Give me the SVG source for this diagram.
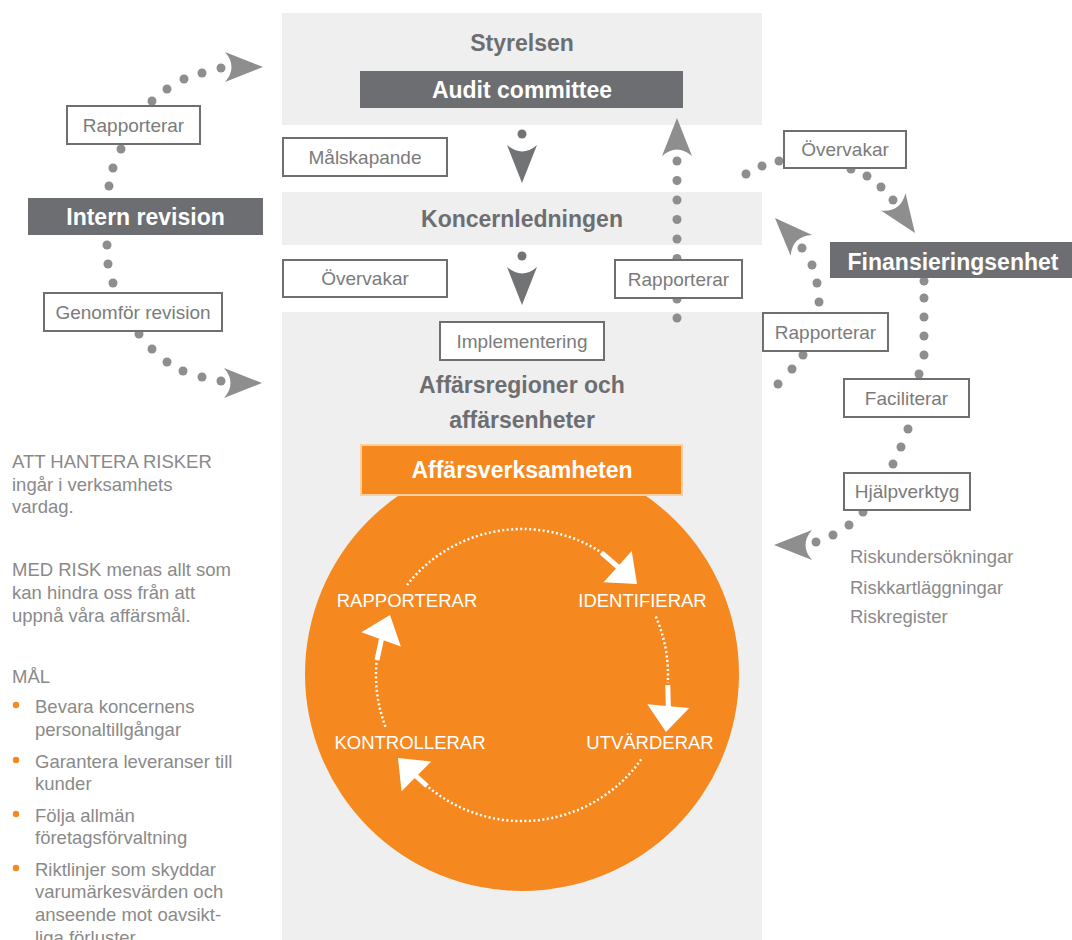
<svg xmlns="http://www.w3.org/2000/svg" xmlns:xlink="http://www.w3.org/1999/xlink" width="1072" height="940" viewBox="0 0 1072 940">
<defs>
<style>
text{font-family:"Liberation Sans",Arial,Helvetica,sans-serif}
.panel{fill:#efefef}
.dot{fill:#8e8e8e}
.ah{fill:#8e8e8e}
.ahd{fill:#727375}
.lbl rect{fill:#fff;stroke:#6f6f6f;stroke-width:2}
.lbl text{font-size:19px;fill:#7b7b7b;text-anchor:middle}
.title{font-weight:bold;font-size:23px;fill:#6d6e71;text-anchor:middle}
.dark rect{fill:#6d6e71}
.dark text{font-weight:bold;font-size:23px;fill:#fff;text-anchor:middle}
.body{font-size:18.5px;fill:#8a8a8a}
.bul{fill:#f5891f}
.cyc{font-size:18.5px;fill:#fff;text-anchor:middle}
.warc{fill:none;stroke:#fff;stroke-width:2.5;stroke-dasharray:2 2.5}
.wstem{stroke:#fff;stroke-width:5;fill:none}
.wah{fill:#fff}
.side{font-size:18.5px;fill:#8a8a8a}
</style>
<path id="ahp" d="M0,0 L-38,-15 Q-25,0 -38,15 Z"/>
<path id="wahp" d="M0,0 L-26,-21 L-26,21 Z"/>
</defs>
<rect width="1072" height="940" fill="#fff"/>

<g id="panels">
<rect class="panel" x="282" y="13" width="480" height="112"/>
<rect class="panel" x="282" y="192" width="480" height="53"/>
<rect class="panel" x="282" y="312" width="480" height="628"/>
</g>

<g id="affarsverksamheten">
<circle cx="522" cy="674" r="217" fill="#f5891f"/>
<rect x="361" y="445" width="321" height="50" fill="#f5891f" stroke="#fbcf9f" stroke-width="2"/>
<text x="522" y="478" font-weight="bold" font-size="23" fill="#fff" text-anchor="middle">Affärsverksamheten</text>
</g>

<g id="connectors">
<g id="c-intern-styrelsen">
<circle class="dot" cx="109" cy="186" r="4.5"/><circle class="dot" cx="113" cy="168" r="4.5"/><circle class="dot" cx="121" cy="149" r="4.5"/>
<circle class="dot" cx="152" cy="101" r="4.5"/><circle class="dot" cx="167" cy="89" r="4.5"/><circle class="dot" cx="184" cy="79" r="4.5"/><circle class="dot" cx="202" cy="73" r="4.5"/><circle class="dot" cx="221" cy="68" r="4.5"/>
<use href="#ahp" class="ah" transform="translate(263,67)"/>
</g>
<g id="c-intern-affar">
<circle class="dot" cx="107" cy="245" r="4.5"/><circle class="dot" cx="108" cy="264" r="4.5"/><circle class="dot" cx="113" cy="283" r="4.5"/>
<circle class="dot" cx="139" cy="334" r="4.5"/><circle class="dot" cx="152" cy="349" r="4.5"/><circle class="dot" cx="167" cy="362" r="4.5"/><circle class="dot" cx="183" cy="371" r="4.5"/><circle class="dot" cx="202" cy="377" r="4.5"/><circle class="dot" cx="221" cy="381" r="4.5"/>
<use href="#ahp" class="ah" transform="translate(262,383)"/>
</g>
<g id="c-styrelsen-koncern">
<circle class="ahd" cx="522" cy="134" r="4.5"/>
<use href="#ahp" class="ahd" transform="translate(522,183) rotate(90)"/>
</g>
<g id="c-koncern-affar">
<circle class="ahd" cx="522" cy="256" r="4.5"/>
<use href="#ahp" class="ahd" transform="translate(522,305) rotate(90)"/>
</g>
<g id="c-affar-audit">
<circle class="dot" cx="677" cy="161" r="4.5"/><circle class="dot" cx="677" cy="180.5" r="4.5"/><circle class="dot" cx="677" cy="200" r="4.5"/><circle class="dot" cx="677" cy="219.5" r="4.5"/><circle class="dot" cx="677" cy="239" r="4.5"/><circle class="dot" cx="677" cy="258.5" r="4.5"/><circle class="dot" cx="677" cy="278" r="4.5"/><circle class="dot" cx="677" cy="299" r="4.5"/><circle class="dot" cx="677" cy="318" r="4.5"/>
<use href="#ahp" class="ah" transform="translate(677,118) rotate(-90)"/>
</g>
<g id="c-koncern-finans">
<circle class="dot" cx="746" cy="174" r="4.5"/><circle class="dot" cx="762" cy="166" r="4.5"/><circle class="dot" cx="779" cy="161" r="4.5"/>
<circle class="dot" cx="851" cy="169" r="4.5"/><circle class="dot" cx="867" cy="176" r="4.5"/><circle class="dot" cx="881" cy="187" r="4.5"/><circle class="dot" cx="893" cy="200" r="4.5"/>
<use href="#ahp" class="ah" transform="translate(915,233) rotate(55)"/>
</g>
<g id="c-finans-koncern">
<circle class="dot" cx="778" cy="384" r="4.5"/><circle class="dot" cx="792" cy="369" r="4.5"/><circle class="dot" cx="803" cy="355" r="4.5"/>
<circle class="dot" cx="819" cy="302" r="4.5"/><circle class="dot" cx="817" cy="283" r="4.5"/><circle class="dot" cx="812" cy="265" r="4.5"/><circle class="dot" cx="802" cy="248" r="4.5"/>
<use href="#ahp" class="ah" transform="translate(775,218) rotate(-134)"/>
</g>
<g id="c-finans-verktyg">
<circle class="dot" cx="924" cy="281" r="4.5"/><circle class="dot" cx="924" cy="298" r="4.5"/><circle class="dot" cx="924" cy="317" r="4.5"/><circle class="dot" cx="924" cy="336" r="4.5"/><circle class="dot" cx="924" cy="355" r="4.5"/><circle class="dot" cx="919" cy="374" r="4.5"/>
<circle class="dot" cx="908" cy="429" r="4.5"/><circle class="dot" cx="901" cy="447" r="4.5"/><circle class="dot" cx="893" cy="464" r="4.5"/>
<circle class="dot" cx="863" cy="512" r="4.5"/><circle class="dot" cx="849" cy="525" r="4.5"/><circle class="dot" cx="833" cy="535" r="4.5"/><circle class="dot" cx="816" cy="542" r="4.5"/>
<use href="#ahp" class="ah" transform="translate(774,545) rotate(180)"/>
</g>
<g id="c-cycle">
<path class="warc" d="M407,585 A146,146 0 0 1 601.5,552.6"/>
<path class="wstem" d="M601.5,552.6 L618,567"/>
<use href="#wahp" class="wah" transform="translate(637,584) rotate(42)"/>
<path class="warc" d="M655.8,616.6 A146,146 0 0 1 667.8,682.9"/>
<path class="wstem" d="M667.8,685 L668.3,707"/>
<use href="#wahp" class="wah" transform="translate(666,732) rotate(95)"/>
<path class="warc" d="M641.2,759.4 A146,146 0 0 1 427,785.9"/>
<path class="wstem" d="M427,786 L416,776"/>
<use href="#wahp" class="wah" transform="translate(398,758) rotate(225)"/>
<path class="warc" d="M385.5,726.8 A146,146 0 0 1 376.7,660.2"/>
<path class="wstem" d="M377,660 L381.5,639"/>
<use href="#wahp" class="wah" transform="translate(390,615) rotate(-70)"/>
</g>
</g>

<g id="styrelsen"><text class="title" x="522" y="51">Styrelsen</text></g>
<g id="audit-committee" class="dark"><rect x="360" y="71" width="323" height="37"/><text x="522" y="98">Audit committee</text></g>
<g id="koncernledningen"><text class="title" x="522" y="227">Koncernledningen</text></g>
<g id="affarsregioner"><text class="title" x="522" y="393">Affärsregioner och</text><text class="title" x="522" y="428">affärsenheter</text></g>
<g id="intern-revision" class="dark"><rect x="28" y="198" width="235" height="37"/><text x="145.5" y="225">Intern revision</text></g>
<g id="finansieringsenhet" class="dark"><rect x="830" y="242" width="242" height="36"/><text x="953" y="270" font-size="23.5">Finansieringsenhet</text></g>

<g id="lbl-rapporterar-l" class="lbl"><rect x="67" y="106" width="133" height="38"/><text x="133.5" y="131.5">Rapporterar</text></g>
<g id="lbl-genomfor" class="lbl"><rect x="44" y="293" width="178" height="38"/><text x="133" y="318.5">Genomför revision</text></g>
<g id="lbl-malskapande" class="lbl"><rect x="283" y="138" width="164" height="38"/><text x="365" y="163.5">Målskapande</text></g>
<g id="lbl-overvakar-l" class="lbl"><rect x="283" y="260" width="164" height="37"/><text x="365" y="285">Övervakar</text></g>
<g id="lbl-rapporterar-m" class="lbl"><rect x="615" y="260" width="127" height="38"/><text x="678.5" y="285.5">Rapporterar</text></g>
<g id="lbl-implementering" class="lbl"><rect x="440" y="322" width="164" height="38"/><text x="522" y="347.5">Implementering</text></g>
<g id="lbl-overvakar-r" class="lbl"><rect x="784" y="131" width="122" height="37"/><text x="845" y="156">Övervakar</text></g>
<g id="lbl-rapporterar-r" class="lbl"><rect x="763" y="313" width="125" height="38"/><text x="825.5" y="338.5">Rapporterar</text></g>
<g id="lbl-faciliterar" class="lbl"><rect x="844" y="379" width="125" height="38"/><text x="906.5" y="404.5">Faciliterar</text></g>
<g id="lbl-hjalpverktyg" class="lbl"><rect x="844" y="473" width="126" height="37"/><text x="907" y="498">Hjälpverktyg</text></g>

<g id="cycle-labels">
<text class="cyc" x="407" y="607">RAPPORTERAR</text>
<text class="cyc" x="642.5" y="607">IDENTIFIERAR</text>
<text class="cyc" x="410" y="749">KONTROLLERAR</text>
<text class="cyc" x="650" y="749">UTVÄRDERAR</text>
</g>

<g id="tools-list">
<text class="side" x="850" y="563">Riskundersökningar</text>
<text class="side" x="850" y="594">Riskkartläggningar</text>
<text class="side" x="850" y="623">Riskregister</text>
</g>

<g id="left-text">
<text class="body" x="12" y="468">ATT HANTERA RISKER</text>
<text class="body" x="12" y="491">ingår i verksamhets</text>
<text class="body" x="12" y="513">vardag.</text>
<text class="body" x="12" y="576">MED RISK menas allt som</text>
<text class="body" x="12" y="599">kan hindra oss från att</text>
<text class="body" x="12" y="622">uppnå våra affärsmål.</text>
<text class="body" x="12" y="683">MÅL</text>
<circle class="bul" cx="16" cy="705" r="3.2"/>
<text class="body" x="35" y="713">Bevara koncernens</text>
<text class="body" x="35" y="736">personaltillgångar</text>
<circle class="bul" cx="16" cy="760" r="3.2"/>
<text class="body" x="35" y="768">Garantera leveranser till</text>
<text class="body" x="35" y="790">kunder</text>
<circle class="bul" cx="16" cy="814" r="3.2"/>
<text class="body" x="35" y="822">Följa allmän</text>
<text class="body" x="35" y="844">företagsförvaltning</text>
<circle class="bul" cx="16" cy="868" r="3.2"/>
<text class="body" x="35" y="876">Riktlinjer som skyddar</text>
<text class="body" x="35" y="898">varumärkesvärden och</text>
<text class="body" x="35" y="921">anseende mot oavsikt-</text>
<text class="body" x="35" y="944">liga förluster</text>
</g>
</svg>
